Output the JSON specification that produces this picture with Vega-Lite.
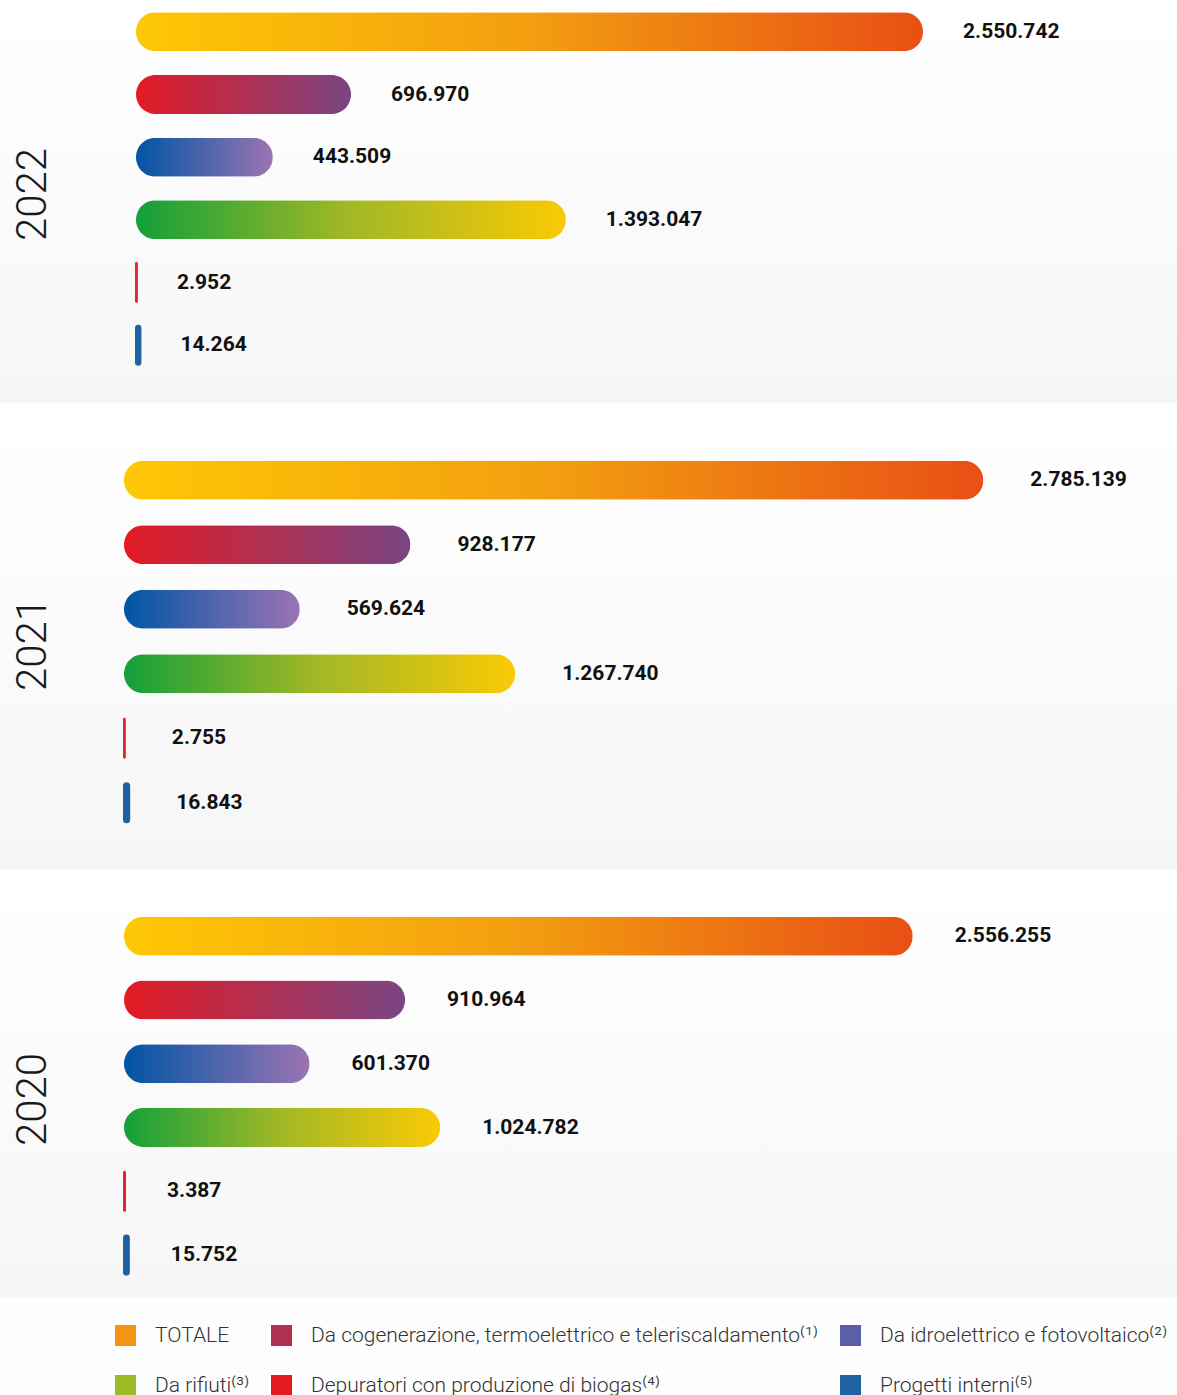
{
  "$schema": "https://vega.github.io/schema/vega-lite/v6.json",
  "padding": 0,
  "background": "#fdfdfd",
  "spacing": 0,
  "config": {
    "locale": {"number": {"decimal": ",", "thousands": ".", "grouping": [3], "currency": ["€", ""]}},
    "view": {"stroke": null, "fill": {"gradient": "linear", "x1": 0, "y1": 0, "x2": 0, "y2": 1, "stops": [{"offset": 0, "color": "#ffffff"}, {"offset": 1, "color": "#f6f6f6"}]}},
    "axis": {"labels": false, "ticks": false, "domain": false, "grid": false, "titleFont": "Roboto", "titleFontSize": 42, "titleFontWeight": 300, "titleColor": "#1a1a1a", "titleAngle": 270, "titleBaseline": "alphabetic", "titleAlign": "center", "titleX": 45}
  },
  "datasets": {
    "dati": [
      {"anno": "2022", "voce": "TOTALE", "valore": 2550742},
      {"anno": "2022", "voce": "Da cogenerazione, termoelettrico e teleriscaldamento⁽¹⁾", "valore": 696970},
      {"anno": "2022", "voce": "Da idroelettrico e fotovoltaico⁽²⁾", "valore": 443509},
      {"anno": "2022", "voce": "Da rifiuti⁽³⁾", "valore": 1393047},
      {"anno": "2022", "voce": "Depuratori con produzione di biogas⁽⁴⁾", "valore": 2952},
      {"anno": "2022", "voce": "Progetti interni⁽⁵⁾", "valore": 14264},
      {"anno": "2021", "voce": "TOTALE", "valore": 2785139},
      {"anno": "2021", "voce": "Da cogenerazione, termoelettrico e teleriscaldamento⁽¹⁾", "valore": 928177},
      {"anno": "2021", "voce": "Da idroelettrico e fotovoltaico⁽²⁾", "valore": 569624},
      {"anno": "2021", "voce": "Da rifiuti⁽³⁾", "valore": 1267740},
      {"anno": "2021", "voce": "Depuratori con produzione di biogas⁽⁴⁾", "valore": 2755},
      {"anno": "2021", "voce": "Progetti interni⁽⁵⁾", "valore": 16843},
      {"anno": "2020", "voce": "TOTALE", "valore": 2556255},
      {"anno": "2020", "voce": "Da cogenerazione, termoelettrico e teleriscaldamento⁽¹⁾", "valore": 910964},
      {"anno": "2020", "voce": "Da idroelettrico e fotovoltaico⁽²⁾", "valore": 601370},
      {"anno": "2020", "voce": "Da rifiuti⁽³⁾", "valore": 1024782},
      {"anno": "2020", "voce": "Depuratori con produzione di biogas⁽⁴⁾", "valore": 3387},
      {"anno": "2020", "voce": "Progetti interni⁽⁵⁾", "valore": 15752}
    ]
  },
  "vconcat": [
    {
      "width": 1177, "height": 403,
      "data": {"name": "dati"},
      "transform": [{"filter": "datum.anno === '2022'"}],
      "encoding": {
        "y": {"field": "voce", "type": "nominal", "sort": null,
          "scale": {"domain": ["TOTALE", "Da cogenerazione, termoelettrico e teleriscaldamento⁽¹⁾", "Da idroelettrico e fotovoltaico⁽²⁾", "Da rifiuti⁽³⁾", "Depuratori con produzione di biogas⁽⁴⁾", "Progetti interni⁽⁵⁾"], "paddingInner": 0, "paddingOuter": 0.2156, "align": 0.02},
          "axis": {"title": "2022", "titleY": 194}},
        "x": {"field": "valore", "type": "quantitative", "scale": {"domain": [-440790, 3373985], "nice": false, "zero": false}, "axis": null}
      },
      "layer": [
        {
          "mark": {"type": "bar", "size": 39, "cornerRadius": 19.5, "strokeWidth": 2},
          "encoding": {
            "color": {
              "condition": [
                {"test": "datum.voce === 'TOTALE'", "value": {"gradient": "linear", "x1": 0, "y1": 0, "x2": 1, "y2": 0, "stops": [{"offset": 0, "color": "#fec805"}, {"offset": 0.5, "color": "#f39e10"}, {"offset": 1, "color": "#e84f15"}]}},
                {"test": "indexof(datum.voce, 'cogenerazione') >= 0", "value": {"gradient": "linear", "x1": 0, "y1": 0, "x2": 1, "y2": 0, "stops": [{"offset": 0, "color": "#e31b23"}, {"offset": 1, "color": "#7a4583"}]}},
                {"test": "indexof(datum.voce, 'idroelettrico') >= 0", "value": {"gradient": "linear", "x1": 0, "y1": 0, "x2": 1, "y2": 0, "stops": [{"offset": 0, "color": "#0055a4"}, {"offset": 1, "color": "#9b74b3"}]}},
                {"test": "indexof(datum.voce, 'rifiuti') >= 0", "value": {"gradient": "linear", "x1": 0, "y1": 0, "x2": 1, "y2": 0, "stops": [{"offset": 0, "color": "#13a03a"}, {"offset": 0.5, "color": "#a3b826"}, {"offset": 1, "color": "#f9ca04"}]}},
                {"test": "indexof(datum.voce, 'Depuratori') >= 0", "value": "#e3262b"}
              ],
              "value": "#1f62a2"
            },
            "stroke": {
              "condition": [
                {"test": "indexof(datum.voce, 'Depuratori') >= 0", "value": "#e3262b"},
                {"test": "indexof(datum.voce, 'Progetti') >= 0", "value": "#1f62a2"}
              ],
              "value": null
            }
          }
        },
        {
          "mark": {"type": "text", "align": "left", "baseline": "middle", "dx": 40, "font": "Roboto", "fontSize": 21, "fontWeight": "bold", "color": "#111111"},
          "encoding": {"text": {"field": "valore", "type": "quantitative", "format": ",d"}}
        }
      ]
    },
    {
      "width": 1177, "height": 467,
      "data": {"name": "dati"},
      "transform": [{"filter": "datum.anno === '2021'"}],
      "encoding": {
        "y": {"field": "voce", "type": "nominal", "sort": null,
          "scale": {"domain": ["TOTALE", "Da cogenerazione, termoelettrico e teleriscaldamento⁽¹⁾", "Da idroelettrico e fotovoltaico⁽²⁾", "Da rifiuti⁽³⁾", "Depuratori con produzione di biogas⁽⁴⁾", "Progetti interni⁽⁵⁾"], "paddingInner": 0, "paddingOuter": 0.6207, "align": 0.5625},
          "axis": {"title": "2021", "titleY": 241}},
        "x": {"field": "valore", "type": "quantitative", "scale": {"domain": [-401896, 3412878], "nice": false, "zero": false}, "axis": null}
      },
      "layer": [
        {
          "mark": {"type": "bar", "size": 39, "cornerRadius": 19.5, "strokeWidth": 2},
          "encoding": {
            "color": {
              "condition": [
                {"test": "datum.voce === 'TOTALE'", "value": {"gradient": "linear", "x1": 0, "y1": 0, "x2": 1, "y2": 0, "stops": [{"offset": 0, "color": "#fec805"}, {"offset": 0.5, "color": "#f39e10"}, {"offset": 1, "color": "#e84f15"}]}},
                {"test": "indexof(datum.voce, 'cogenerazione') >= 0", "value": {"gradient": "linear", "x1": 0, "y1": 0, "x2": 1, "y2": 0, "stops": [{"offset": 0, "color": "#e31b23"}, {"offset": 1, "color": "#7a4583"}]}},
                {"test": "indexof(datum.voce, 'idroelettrico') >= 0", "value": {"gradient": "linear", "x1": 0, "y1": 0, "x2": 1, "y2": 0, "stops": [{"offset": 0, "color": "#0055a4"}, {"offset": 1, "color": "#9b74b3"}]}},
                {"test": "indexof(datum.voce, 'rifiuti') >= 0", "value": {"gradient": "linear", "x1": 0, "y1": 0, "x2": 1, "y2": 0, "stops": [{"offset": 0, "color": "#13a03a"}, {"offset": 0.5, "color": "#a3b826"}, {"offset": 1, "color": "#f9ca04"}]}},
                {"test": "indexof(datum.voce, 'Depuratori') >= 0", "value": "#e3262b"}
              ],
              "value": "#1f62a2"
            },
            "stroke": {
              "condition": [
                {"test": "indexof(datum.voce, 'Depuratori') >= 0", "value": "#e3262b"},
                {"test": "indexof(datum.voce, 'Progetti') >= 0", "value": "#1f62a2"}
              ],
              "value": null
            }
          }
        },
        {
          "mark": {"type": "text", "align": "left", "baseline": "middle", "dx": 47, "font": "Roboto", "fontSize": 21, "fontWeight": "bold", "color": "#111111"},
          "encoding": {"text": {"field": "valore", "type": "quantitative", "format": ",d"}}
        }
      ]
    },
    {
      "width": 1177, "height": 427,
      "data": {"name": "dati"},
      "transform": [{"filter": "datum.anno === '2020'"}],
      "encoding": {
        "y": {"field": "voce", "type": "nominal", "sort": null,
          "scale": {"domain": ["TOTALE", "Da cogenerazione, termoelettrico e teleriscaldamento⁽¹⁾", "Da idroelettrico e fotovoltaico⁽²⁾", "Da rifiuti⁽³⁾", "Depuratori con produzione di biogas⁽⁴⁾", "Progetti interni⁽⁵⁾"], "paddingInner": 0, "paddingOuter": 0.348, "align": 0.774},
          "axis": {"title": "2020", "titleY": 229}},
        "x": {"field": "valore", "type": "quantitative", "scale": {"domain": [-401896, 3412878], "nice": false, "zero": false}, "axis": null}
      },
      "layer": [
        {
          "mark": {"type": "bar", "size": 39, "cornerRadius": 19.5, "strokeWidth": 2},
          "encoding": {
            "color": {
              "condition": [
                {"test": "datum.voce === 'TOTALE'", "value": {"gradient": "linear", "x1": 0, "y1": 0, "x2": 1, "y2": 0, "stops": [{"offset": 0, "color": "#fec805"}, {"offset": 0.5, "color": "#f39e10"}, {"offset": 1, "color": "#e84f15"}]}},
                {"test": "indexof(datum.voce, 'cogenerazione') >= 0", "value": {"gradient": "linear", "x1": 0, "y1": 0, "x2": 1, "y2": 0, "stops": [{"offset": 0, "color": "#e31b23"}, {"offset": 1, "color": "#7a4583"}]}},
                {"test": "indexof(datum.voce, 'idroelettrico') >= 0", "value": {"gradient": "linear", "x1": 0, "y1": 0, "x2": 1, "y2": 0, "stops": [{"offset": 0, "color": "#0055a4"}, {"offset": 1, "color": "#9b74b3"}]}},
                {"test": "indexof(datum.voce, 'rifiuti') >= 0", "value": {"gradient": "linear", "x1": 0, "y1": 0, "x2": 1, "y2": 0, "stops": [{"offset": 0, "color": "#13a03a"}, {"offset": 0.5, "color": "#a3b826"}, {"offset": 1, "color": "#f9ca04"}]}},
                {"test": "indexof(datum.voce, 'Depuratori') >= 0", "value": "#e3262b"}
              ],
              "value": "#1f62a2"
            },
            "stroke": {
              "condition": [
                {"test": "indexof(datum.voce, 'Depuratori') >= 0", "value": "#e3262b"},
                {"test": "indexof(datum.voce, 'Progetti') >= 0", "value": "#1f62a2"}
              ],
              "value": null
            }
          }
        },
        {
          "mark": {"type": "text", "align": "left", "baseline": "middle", "dx": 42, "font": "Roboto", "fontSize": 21, "fontWeight": "bold", "color": "#111111"},
          "encoding": {"text": {"field": "valore", "type": "quantitative", "format": ",d"}}
        },
        {
          "mark": {"type": "square", "opacity": 0, "filled": true},
          "encoding": {
            "color": {"field": "voce", "type": "nominal",
              "scale": {"domain": ["TOTALE", "Da cogenerazione, termoelettrico e teleriscaldamento⁽¹⁾", "Da idroelettrico e fotovoltaico⁽²⁾", "Da rifiuti⁽³⁾", "Depuratori con produzione di biogas⁽⁴⁾", "Progetti interni⁽⁵⁾"], "range": ["#f39512", "#b03050", "#5a5fa8", "#9cbb27", "#e31a1e", "#1f62a2"]},
              "legend": {
                "title": null, "orient": "none", "direction": "horizontal", "legendX": 115, "legendY": 1325, "columns": 3,
                "symbolType": "square", "symbolSize": 441, "symbolOpacity": 1, "symbolStrokeWidth": 0,
                "labelFont": "Roboto", "labelFontSize": 21, "labelFontWeight": 300, "labelColor": "#333333", "labelLimit": 800, "labelOffset": 19,
                "columnPadding": 22, "rowPadding": 28
              }
            }
          }
        }
      ]
    }
  ]
}
